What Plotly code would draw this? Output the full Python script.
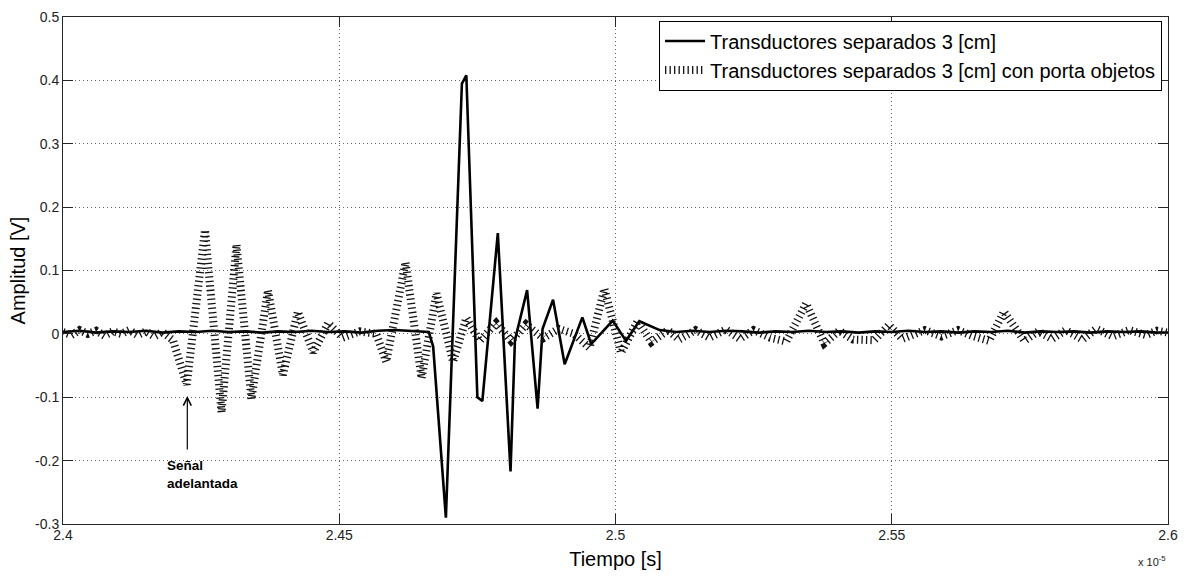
import plotly.graph_objects as go

# Time axis in units of 1e-5 s, amplitude in volts.

# Transductores separados 3 [cm]
t_sep = [
    2.400, 2.403, 2.406, 2.409, 2.412, 2.415, 2.418, 2.421, 2.424, 2.427,
    2.430, 2.433, 2.436, 2.439, 2.442, 2.445, 2.448, 2.451, 2.454, 2.457,
    2.460, 2.463, 2.4662, 2.4670, 2.4693, 2.4722, 2.4730, 2.4750, 2.4759,
    2.4787, 2.4810, 2.4818, 2.4840, 2.4859, 2.4868, 2.4887, 2.4908, 2.4940,
    2.4956, 2.4995, 2.5019, 2.5043, 2.5080, 2.511, 2.514, 2.517, 2.520,
    2.523, 2.526, 2.529, 2.532, 2.535, 2.538, 2.541, 2.544, 2.547, 2.550,
    2.553, 2.556, 2.559, 2.562, 2.565, 2.568, 2.571, 2.574, 2.577, 2.580,
    2.583, 2.586, 2.589, 2.592, 2.595, 2.598, 2.600,
]
v_sep = [
    0.003, 0.005, 0.002, 0.004, 0.003, 0.005, 0.002, 0.004, 0.003, 0.005,
    0.003, 0.004, 0.002, 0.004, 0.003, 0.005, 0.003, 0.004, 0.002, 0.005,
    0.006, 0.004, 0.003, -0.020, -0.290, 0.395, 0.408, -0.100, -0.106,
    0.159, -0.217, -0.010, 0.069, -0.118, 0.008, 0.054, -0.048, 0.026,
    -0.016, 0.021, -0.011, 0.020, 0.006, 0.003, 0.005, 0.003, 0.005,
    0.004, 0.002, 0.004, 0.003, 0.005, 0.003, 0.004, 0.002, 0.004, 0.003,
    0.005, 0.003, 0.004, 0.002, 0.004, 0.003, 0.005, 0.002, 0.004, 0.003,
    0.004, 0.002, 0.004, 0.003, 0.004, 0.002, 0.002,
]

# Transductores separados 3 [cm] con porta objetos
t_obj = [
    2.4000, 2.4015, 2.4030, 2.4045, 2.4060, 2.4075, 2.4090, 2.4105, 2.4120,
    2.4135, 2.4150, 2.4165, 2.4180, 2.4199, 2.4224, 2.4257, 2.4287, 2.4314,
    2.4341, 2.4371, 2.4398, 2.4425, 2.4453, 2.4480, 2.4506, 2.4537, 2.4567,
    2.4585, 2.4620, 2.4649, 2.4676, 2.4706, 2.4730, 2.4754, 2.4784, 2.4811,
    2.4838, 2.4869, 2.4897, 2.4925, 2.4953, 2.4980, 2.5010, 2.5040, 2.5065,
    2.5095, 2.5115, 2.5145, 2.5170, 2.5200, 2.5225, 2.5250, 2.5280, 2.5309,
    2.5345, 2.5378, 2.5405, 2.5430, 2.5468, 2.5495, 2.5519, 2.5560, 2.5590,
    2.5620, 2.5645, 2.5676, 2.5703, 2.5740, 2.5765, 2.5790, 2.5815, 2.5845,
    2.5870, 2.5900, 2.5930, 2.5960, 2.5980, 2.6000,
]
v_obj = [
    0.003, -0.002, 0.006, 0.000, 0.005, -0.003, 0.004, 0.000, 0.006,
    -0.002, 0.004, -0.004, 0.003, -0.010, -0.080, 0.164, -0.124, 0.141,
    -0.103, 0.069, -0.065, 0.035, -0.029, 0.017, -0.006, 0.004, 0.000,
    -0.044, 0.113, -0.070, 0.064, -0.044, 0.025, -0.011, 0.017, -0.011,
    0.015, -0.007, 0.008, 0.000, -0.022, 0.071, -0.030, 0.020, -0.013,
    0.006, -0.009, 0.006, -0.006, 0.007, -0.008, 0.006, -0.006, -0.012,
    0.048, -0.015, 0.005, -0.009, -0.010, 0.014, -0.008, 0.006, -0.004,
    0.006, -0.003, -0.011, 0.035, -0.011, 0.004, -0.008, 0.006, -0.009,
    0.008, -0.004, 0.006, -0.002, 0.005, 0.002,
]

x_ticks = [2.4, 2.45, 2.5, 2.55, 2.6]
x_ticktext = ["2.4", "2.45", "2.5", "2.55", "2.6"]
y_ticks = [0.5, 0.4, 0.3, 0.2, 0.1, 0.0, -0.1, -0.2, -0.3]
y_ticktext = ["0.5", "0.4", "0.3", "0.2", "0.1", "0", "-0.1", "-0.2", "-0.3"]

FONT = "Liberation Sans, Arial, sans-serif"
AXIS_COLOR = "#262626"

fig = go.Figure()
fig.add_trace(go.Scatter(
    x=t_sep, y=v_sep, mode="lines",
    name="Transductores separados 3 [cm]",
    line=dict(color="black", width=2.6),
))
fig.add_trace(go.Scatter(
    x=t_obj, y=v_obj, mode="lines",
    name="Transductores separados 3 [cm] con porta objetos",
    line=dict(color="#111111", width=8, dash="1.3px,3.2px"),
))

axis_common = dict(
    showline=True, linecolor=AXIS_COLOR, linewidth=1, mirror="ticks",
    ticks="inside", ticklen=10, tickcolor=AXIS_COLOR, tickwidth=1,
    showgrid=True, gridcolor="#666666", gridwidth=1, griddash="1px,3px",
    zeroline=False,
    tickfont=dict(family=FONT, size=14, color="#222222"),
)

fig.update_xaxes(
    range=[2.4, 2.6], tickvals=x_ticks, ticktext=x_ticktext,
    ticklabelstandoff=-2,
    title=dict(text="Tiempo [s]", font=dict(family=FONT, size=20, color="black"), standoff=10),
    **axis_common,
)
fig.update_yaxes(
    range=[-0.3, 0.5], tickvals=y_ticks, ticktext=y_ticktext,
    title=dict(text="Amplitud [V]", font=dict(family=FONT, size=20, color="black"), standoff=4),
    **axis_common,
)

fig.update_layout(
    width=1187, height=576,
    margin=dict(l=63, r=18, t=9, b=49),
    paper_bgcolor="white", plot_bgcolor="white",
    font=dict(family=FONT, color="black"),
    showlegend=True,
    legend=dict(
        x=0.9946, xanchor="right", y=0.993, yanchor="top",
        bgcolor="white", bordercolor="black", borderwidth=1,
        font=dict(family=FONT, size=20, color="black"),
        itemwidth=40, tracegroupgap=0,
    ),
    annotations=[
        dict(
            x=2.4225, y=-0.098, ax=2.4225, ay=-0.185,
            xref="x", yref="y", axref="x", ayref="y",
            text="", showarrow=True, arrowhead=5, arrowsize=1.3,
            arrowwidth=1.2, arrowcolor="black",
        ),
        dict(
            x=2.4184, y=-0.222, xref="x", yref="y",
            xanchor="left", yanchor="middle", align="left",
            text="<b>Señal</b><br><b>adelantada</b>", showarrow=False,
            font=dict(family=FONT, size=13.5, color="black"),
        ),
        dict(
            x=1.0, y=-0.073, xref="paper", yref="paper",
            xanchor="right", yanchor="middle",
            text="x 10<sup>-5</sup>", showarrow=False,
            font=dict(family=FONT, size=11, color="#222222"),
        ),
    ],
)

fig.write_html("out.html", config={"displayModeBar": False})
